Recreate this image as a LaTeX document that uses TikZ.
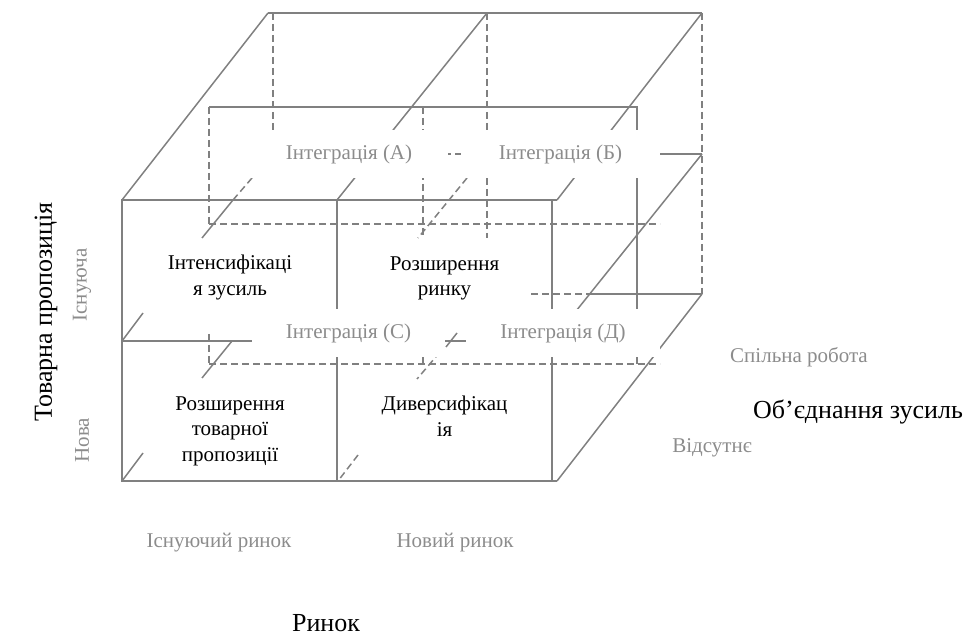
\documentclass[tikz,border=0pt]{standalone}
\usepackage{fontspec}
\setmainfont{Liberation Serif}
\usepackage{xcolor}
\definecolor{edgegray}{RGB}{128, 128, 128}
\definecolor{labelgray}{RGB}{140, 140, 140}
\newcommand{\cellfont}{\fontsize{10.5pt}{12.8pt}\selectfont}
\newcommand{\axisfont}{\fontsize{13pt}{15.6pt}\selectfont}

\begin{document}
\begin{tikzpicture}[
    x=0.5pt, y=-0.5pt,
    edge/.style={draw=edgegray, line width=0.75pt},
    hidden/.style={edge, dash pattern=on 3.5pt off 2pt},
    intlabel/.style={rectangle, fill=white, inner sep=0pt, minimum height=24pt, text=labelgray, font=\cellfont},
    cell/.style={align=center, anchor=north, inner sep=0pt, font=\cellfont},
    sublabel/.style={text=labelgray, font=\cellfont, inner sep=0pt},
    axis/.style={font=\axisfont, inner sep=0pt}
]
\useasboundingbox (0,0) rectangle (973,635);

% Back face
\draw[edge] (268,13) -- (702,13);
\draw[hidden] (273,13) -- (273,154);
\draw[hidden] (487,13) -- (487,238);
\draw[hidden] (702,13) -- (702,294);
\draw[hidden] (268,154) -- (660,154);
\draw[edge] (660,154) -- (702,154);
\draw[hidden] (531,294) -- (593,294);
\draw[edge] (593,294) -- (702,294);

% Top face
\draw[edge] (268,13) -- (122,200);
\draw[edge] (487,13) -- (337,200);
\draw[edge] (702,13) -- (557,200);

% Middle layer
\draw[edge] (209,107) -- (637,107) -- (637,364);
\draw[hidden] (209,107) -- (209,224);
\draw[hidden] (423,107) -- (423,238);
\draw[hidden] (209,224) -- (660,224);
\draw[hidden] (209,364) -- (660,364);
\draw[hidden] (209,334) -- (209,364);
\draw[hidden] (423,334) -- (423,364);

% Depth strokes
\draw[hidden] (252,178) -- (233,200);
\draw[edge] (233,200) -- (202,238);
\draw[hidden] (467,178) -- (418,238);
\draw[edge] (143,313) -- (122,341);
\draw[edge] (232,341) -- (202,378);
\draw[edge] (457,333) -- (446,347);
\draw[hidden] (440,352) -- (417,379);
\draw[edge] (143,453) -- (122,481);
\draw[hidden] (358,455) -- (338,481);
\draw[edge] (552,341) -- (702,154);
\draw[edge] (557,481) -- (702,294);

% Front face
\draw[edge] (557,200) -- (122,200) -- (122,481) -- (557,481);
\draw[edge] (552,200) -- (552,481);
\draw[edge] (337,200) -- (337,481);
\draw[edge] (122,341) -- (552,341);

% Integration labels
\node[intlabel, minimum width=99pt] (intA) at (349,154) {Інтеграція (А)};
\node[intlabel, minimum width=99.5pt] (intB) at (560.5,154) {Інтеграція (Б)};
\node[intlabel, minimum width=96.5pt] (intC) at (348.5,333) {Інтеграція (С)};
\node[intlabel, minimum width=97pt] (intD) at (563,333) {Інтеграція (Д)};

% Cells
\node[cell] (intens) at (230,255) {Інтенсифікаці\\я зусиль};
\node[cell] (rozrynok) at (444.5,256) {Розширення\\ринку};
\node[cell] (roztov) at (230,396) {Розширення\\товарної\\пропозиції};
\node[cell] (dyvers) at (444.5,396) {Диверсифікац\\ія};

% Axes
\node[axis, rotate=90] (tovar) at (46,312) {Товарна пропозиція};
\node[sublabel, rotate=90] (isnuy) at (82,285) {Існуюча};
\node[sublabel, rotate=90] (nova) at (82,440) {Нова};
\node[sublabel] (spilna) at (799,357) {Спільна робота};
\node[axis] (obied) at (858,412) {Об’єднання зусиль};
\node[sublabel] (vidsut) at (712,448) {Відсутнє};
\node[sublabel] (isnrynok) at (219,543) {Існуючий ринок};
\node[sublabel] (novrynok) at (455,543) {Новий ринок};
\node[axis] (rynok) at (326,623) {Ринок};

\end{tikzpicture}
\end{document}
